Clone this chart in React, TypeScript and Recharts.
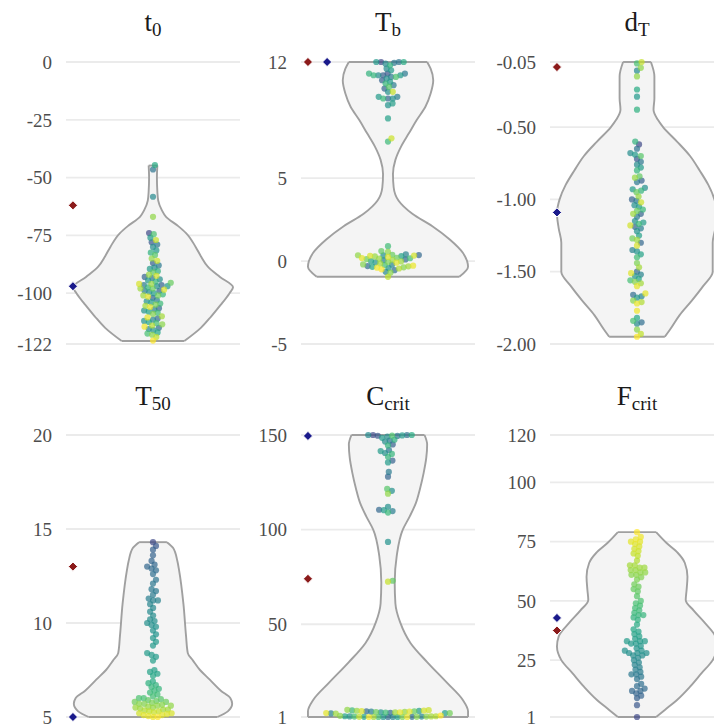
import React from "react";
import {
  ComposedChart,
  Area,
  Scatter,
  XAxis,
  YAxis,
  CartesianGrid,
  ReferenceLine,
} from "recharts";

// F_crit of every run (runs ordered by it); it also sets the point colour in all panels
const fcritValues = [
  1, 6, 9, 10, 11, 12, 12, 13, 14, 15,
  17, 18, 19, 19, 20, 21, 22, 23, 24, 25,
  26, 27, 27, 28, 28, 28, 29, 29, 30, 31,
  32, 32, 33, 33, 33, 34, 35, 36, 37, 38,
  40, 42, 43, 44, 44, 45, 46, 47, 48, 49,
  50, 52, 54, 55, 56, 57, 59, 60, 61, 61,
  62, 62, 63, 63, 64, 64, 65, 65, 67, 69,
  70, 71, 72, 73, 74, 75, 75, 76, 77, 79,
];

// same runs, one row of ten per F_crit band
const t0Values = [
  -74, -78, -87, -93, -96.5, -99, -102, -106.5, -111, -115,
  -46.5, -79, -88, -93.5, -96.5, -99, -103, -107, -111.5, -115.5,
  -58.3, -80, -89, -94, -97, -99.5, -103.5, -107.5, -112, -116,
  -76, -81.5, -89.5, -94.5, -97, -100, -104, -108, -112.5, -117,
  -44.6, -82.5, -90.5, -95, -97.5, -100.5, -104.5, -108.5, -113, -117.5,
  -74.5, -83.5, -91, -95.5, -98, -101, -105, -109, -113.5, -118,
  -67, -85, -92, -96, -98, -101, -105.5, -110, -114, -119,
  -77, -86, -92.5, -96, -98.5, -101.5, -106, -110.5, -114.5, -120.5,
];

const tbValues = [
  12.0, 11.3, 11.2, 10.9, 10.4, 9.8, 0.36, 0.1, -0.3, -0.55,
  12.0, 11.95, 11.3, 11.1, 10.6, 9.9, 0.4, 0.05, -0.22, -0.65,
  11.9, 11.6, 11.2, 11.0, 10.2, 9.8, 9.4, 0.34, -0.08, -0.42,
  12.0, 11.5, 11.2, 10.8, 9.9, 9.5, 8.6, 0.3, 0.0, -0.35,
  12.0, 11.8, 11.3, 11.2, 10.7, 9.8, 7.2, 0.9, 0.17, -0.25,
  11.1, 10.5, 0.6, 0.38, 0.2, 0.12, -0.05, -0.2, -0.38, -0.7,
  0.55, 0.35, 0.28, 0.15, 0.08, -0.02, -0.15, -0.32, -0.45, -0.95,
  10.2, 7.4, 0.33, 0.32, 0.25, 0.18, -0.1, -0.28, -0.4, -0.5,
];

const dtValues = [
  -0.62, -0.72, -0.87, -1.0, -1.1, -1.19, -1.3, -1.5, -1.66, -1.85,
  -0.65, -0.74, -0.88, -1.01, -1.12, -1.2, -1.35, -1.52, -1.67, -1.86,
  -0.11, -0.68, -0.76, -0.92, -1.04, -1.15, -1.22, -1.36, -1.53, -1.68,
  -0.29, -0.69, -0.78, -0.93, -1.05, -1.16, -1.25, -1.38, -1.55, -1.82,
  -0.24, -0.38, -0.6, -0.8, -0.94, -1.07, -1.17, -1.4, -1.56, -1.84,
  -0.06, -0.7, -0.84, -0.95, -1.08, -1.27, -1.44, -1.57, -1.7, -1.9,
  -0.09, -0.15, -0.85, -0.98, -1.1, -1.28, -1.47, -1.58, -1.71, -1.93,
  -0.05, -1.02, -1.18, -1.32, -1.51, -1.6, -1.65, -1.72, -1.77, -1.95,
];

const t50Values = [
  14.3, 14.1, 13.9, 13.6, 13.3, 13.1, 13.0, 12.9, 12.8, 12.6,
  12.3, 12.1, 11.8, 11.7, 11.5, 11.3, 11.2, 11.2, 11.0, 10.8,
  10.6, 10.4, 10.2, 10.1, 10.0, 9.9, 9.8, 9.6, 9.4, 9.2,
  9.0, 8.8, 8.4, 8.3, 8.2, 8.0, 7.5, 7.4, 7.3, 7.2,
  6.9, 6.8, 6.7, 6.6, 6.5, 6.4, 6.3, 6.2, 6.1, 6.0,
  6.0, 5.95, 5.9, 5.85, 5.8, 5.8, 5.75, 5.7, 5.7, 5.65,
  5.6, 5.6, 5.55, 5.5, 5.5, 5.45, 5.4, 5.4, 5.35, 5.3,
  5.3, 5.25, 5.2, 5.2, 5.15, 5.1, 5.1, 5.05, 5.0, 5.0,
];

const ccritValues = [
  150, 149.6, 145, 136.5, 128, 110.5, 3.2, 4.0, 1.0, 1.1,
  150, 149.5, 147, 142, 130.5, 109.8, 3.8, 2.9, 1.0, 1.2,
  150, 149.2, 146.5, 140.5, 120.5, 112, 93.5, 3.5, 1.0, 1.3,
  149.8, 148.5, 141.5, 135.5, 110.3, 4.2, 3.0, 1.0, 1.4, 1.1,
  150, 147.5, 144.5, 140, 138.5, 109, 4.5, 3.3, 1.0, 1.2,
  149.7, 121.5, 73, 4.0, 3.6, 3.0, 1.0, 1.1, 1.6, 1.2,
  119, 4.8, 4.3, 3.7, 3.4, 2.8, 1.0, 1.3, 1.4, 1.1,
  72.5, 4.6, 4.4, 4.1, 3.9, 3.5, 3.1, 1.0, 1.0, 1.8,
];

// axis ticks
const t0Ticks = [0, -25, -50, -75, -100, -122];
const tbTicks = [12, 5, 0, -5];
const dtTicks = [-0.05, -0.5, -1, -1.5, -2];
const t50Ticks = [20, 15, 10, 5];
const ccritTicks = [150, 100, 50, 1];
const fcritTicks = [120, 100, 75, 50, 25, 1];

// violin outlines: levels and half widths (1 = half the panel width)
const t0ViolinAt = [-44.8, -50, -56, -60, -64, -67, -71, -74, -80, -84, -88.5, -93, -97.5, -100, -105, -110, -115, -120.7];
const t0ViolinHalf = [0.05, 0.045, 0.05, 0.06, 0.1, 0.15, 0.29, 0.38, 0.49, 0.55, 0.63, 0.77, 0.92, 0.88, 0.78, 0.67, 0.55, 0.36];
const tbViolinAt = [12, 11.6, 10.9, 10.1, 9.3, 8.5, 7.7, 6.9, 6.1, 5.25, 4.45, 3.65, 2.85, 2.1, 1.3, 0.5, -0.35, -0.95];
const tbViolinHalf = [0.45, 0.49, 0.52, 0.49, 0.43, 0.33, 0.24, 0.15, 0.085, 0.057, 0.065, 0.12, 0.28, 0.51, 0.71, 0.86, 0.92, 0.82];
const dtViolinAt = [-0.05, -0.15, -0.3, -0.38, -0.45, -0.5, -0.6, -0.7, -0.8, -0.9, -1.0, -1.1, -1.2, -1.3, -1.4, -1.5, -1.6, -1.7, -1.8, -1.9, -1.95];
const dtViolinHalf = [0.16, 0.2, 0.2, 0.19, 0.24, 0.3, 0.46, 0.61, 0.72, 0.82, 0.89, 0.92, 0.9, 0.87, 0.87, 0.87, 0.76, 0.63, 0.49, 0.38, 0.32];
const t50ViolinAt = [14.3, 14, 13.3, 12.8, 11, 9.3, 8.4, 8.0, 7.5, 7.0, 6.4, 6.0, 5.7, 5.3, 5.0];
const t50ViolinHalf = [0.16, 0.23, 0.28, 0.3, 0.35, 0.38, 0.4, 0.46, 0.54, 0.65, 0.78, 0.89, 0.91, 0.86, 0.74];
const ccritViolinAt = [150, 145, 138, 130, 122, 114, 107, 100, 86, 72, 61, 51, 40, 30, 19, 10, 4, 1];
const ccritViolinHalf = [0.42, 0.45, 0.44, 0.41, 0.37, 0.32, 0.25, 0.17, 0.1, 0.077, 0.085, 0.14, 0.26, 0.45, 0.68, 0.86, 0.92, 0.92];
const fcritViolinAt = [79, 74.4, 70.2, 66, 60.2, 54.6, 50.4, 46, 40.7, 35, 30.7, 25, 19.4, 13.8, 8.2, 4, 1];
const fcritViolinHalf = [0.22, 0.34, 0.47, 0.55, 0.58, 0.57, 0.56, 0.65, 0.78, 0.9, 0.92, 0.87, 0.74, 0.61, 0.46, 0.32, 0.22];

// the two reference diamonds, panel order t0, Tb, dT, T50, Ccrit, Fcrit
const redMarks = [-62, 12, -0.085, 13, 74, 37.5];
const blueMarks = [-97, 12, -1.09, 5, 149.5, 42.8];

const panels = [
  { main: "t", sub: "0", values: t0Values, ticks: t0Ticks, at: t0ViolinAt, half: t0ViolinHalf, digits: 0 },
  { main: "T", sub: "b", values: tbValues, ticks: tbTicks, at: tbViolinAt, half: tbViolinHalf, digits: 0 },
  { main: "d", sub: "T", values: dtValues, ticks: dtTicks, at: dtViolinAt, half: dtViolinHalf, digits: 2 },
  { main: "T", sub: "50", values: t50Values, ticks: t50Ticks, at: t50ViolinAt, half: t50ViolinHalf, digits: 0 },
  { main: "C", sub: "crit", values: ccritValues, ticks: ccritTicks, at: ccritViolinAt, half: ccritViolinHalf, digits: 0 },
  { main: "F", sub: "crit", values: fcritValues, ticks: fcritTicks, at: fcritViolinAt, half: fcritViolinHalf, digits: 0 },
];

const PLOT_W = 174;
const PLOT_H = 282;
const PAD = 10;
const GAP = 4.8; // swarm spacing in px
const colLeft = [66, 301, 550];
const colAxis = [66, 61, 74];
const rowTop = [62, 435];
const rowTitle = [31, 405];
const MARK_X = -0.92;
const MARK_X_DODGE = -0.7;
const FONT = "'Liberation Serif', 'Times New Roman', serif";
const OUTLINE = "#a0a0a0";

const viridis = [
  "#440154", "#482475", "#414487", "#355f8d", "#2a788e", "#21918c",
  "#22a884", "#44bf70", "#7ad151", "#bddf26", "#fde725",
];

function hexToRgb(h: string) {
  return [1, 3, 5].map((i) => parseInt(h.slice(i, i + 2), 16));
}

function viridisAt(t: number) {
  const s = Math.max(0, Math.min(1, t)) * (viridis.length - 1);
  const i = Math.min(Math.floor(s), viridis.length - 2);
  const f = s - i;
  const a = hexToRgb(viridis[i]);
  const b = hexToRgb(viridis[i + 1]);
  const c = a.map((v, k) => Math.round(v + (b[k] - v) * f));
  return `rgb(${c[0]},${c[1]},${c[2]})`;
}

const fLo = Math.min(...fcritValues);
const fHi = Math.max(...fcritValues);
const pointColour = (f: number) => viridisAt(0.22 + (0.78 * (f - fLo)) / (fHi - fLo));

// beeswarm: lowest first, each point goes to the free spot nearest the centre
function swarmOffsets(values: number[], lo: number, hi: number) {
  const k = PLOT_H / (hi - lo);
  const order = values.map((_, i) => i).sort((a, b) => values[a] - values[b]);
  const placed: { x: number; y: number }[] = [];
  const out: number[] = new Array(values.length).fill(0);
  for (const i of order) {
    const y = values[i] * k;
    const near = placed.filter((p) => Math.abs(p.y - y) < GAP);
    const cands = [0];
    near.forEach((p) => {
      const dx = Math.sqrt(GAP * GAP - (p.y - y) ** 2);
      cands.push(p.x + dx, p.x - dx);
    });
    cands.sort((a, b) => Math.abs(a) - Math.abs(b));
    const x =
      cands.find((c) => near.every((p) => (p.x - c) ** 2 + (p.y - y) ** 2 >= GAP * GAP - 1e-6)) ?? 0;
    placed.push({ x, y });
    out[i] = x / (PLOT_W / 2);
  }
  return out;
}

const SwarmDot = (props: any) => {
  const { cx, cy, payload } = props;
  if (cx == null || cy == null) return null;
  return <circle cx={cx} cy={cy} r={3.1} fill={payload.c} fillOpacity={0.7} />;
};

const Diamond = (props: any) => {
  const { cx, cy, payload } = props;
  if (cx == null || cy == null) return null;
  const r = 4.6;
  return (
    <path
      d={`M${cx},${cy - r}L${cx + r},${cy}L${cx},${cy + r}L${cx - r},${cy}Z`}
      fill={payload.c}
      stroke="#ffffff"
      strokeWidth={1}
    />
  );
};

function Panel({ index }: { index: number }) {
  const p = panels[index];
  const col = index % 3;
  const row = Math.floor(index / 3);
  const lo = Math.min(...p.ticks);
  const hi = Math.max(...p.ticks);
  const violin = p.at.map((y, i) => ({ y, w: [-p.half[i], p.half[i]] }));
  const offs = swarmOffsets(p.values, lo, hi);
  const dots = p.values.map((y, i) => ({ x: offs[i], y, c: pointColour(fcritValues[i]) }));
  const red = redMarks[index];
  const blue = blueMarks[index];
  const marks = [
    { x: MARK_X, y: red, c: "#8b1a1a" },
    { x: red === blue ? MARK_X_DODGE : MARK_X, y: blue, c: "#1a1a8b" },
  ];
  const last = p.at.length - 1;
  const axisW = colAxis[col];

  return (
    <>
      <svg
        style={{ position: "absolute", left: colLeft[col], top: rowTitle[row] - 35 }}
        width={PLOT_W}
        height={48}
      >
        <text x={PLOT_W / 2} y={35} textAnchor="middle" fontFamily={FONT} fontSize={27} fill="#1a1a1a">
          {p.main}
          <tspan fontSize={19} dy={5}>
            {p.sub}
          </tspan>
        </text>
      </svg>
      <div style={{ position: "absolute", left: colLeft[col] - axisW, top: rowTop[row] - PAD }}>
        <ComposedChart
          width={axisW + PLOT_W}
          height={PLOT_H + 2 * PAD}
          data={violin}
          layout="vertical"
          margin={{ top: PAD, right: 0, bottom: PAD, left: 0 }}
        >
          <CartesianGrid vertical={false} stroke="#ebebeb" strokeWidth={1.8} />
          <XAxis type="number" domain={[-1, 1]} hide />
          <YAxis
            type="number"
            dataKey="y"
            domain={[lo, hi]}
            ticks={p.ticks}
            interval={0}
            reversed
            width={axisW}
            axisLine={false}
            tickLine={false}
            tickSize={0}
            tickMargin={14}
            tick={{ fill: "#4d4d4d", fontSize: 19, fontFamily: FONT }}
            tickFormatter={(v: number) => v.toFixed(p.digits)}
          />
          <Area
            dataKey="w"
            type="monotone"
            fill="#f4f4f4"
            fillOpacity={1}
            stroke={OUTLINE}
            strokeWidth={1.9}
            isAnimationActive={false}
          />
          <ReferenceLine
            segment={[{ x: -p.half[0], y: p.at[0] }, { x: p.half[0], y: p.at[0] }]}
            stroke={OUTLINE}
            strokeWidth={1.9}
          />
          <ReferenceLine
            segment={[{ x: -p.half[last], y: p.at[last] }, { x: p.half[last], y: p.at[last] }]}
            stroke={OUTLINE}
            strokeWidth={1.9}
          />
          <Scatter data={dots} dataKey="x" shape={SwarmDot} isAnimationActive={false} />
          <Scatter data={marks} dataKey="x" shape={Diamond} isAnimationActive={false} />
        </ComposedChart>
      </div>
    </>
  );
}

export default function App() {
  return (
    <div
      style={{
        position: "absolute",
        left: 0,
        top: 0,
        width: 714,
        height: 727,
        overflow: "hidden",
        background: "#ffffff",
      }}
    >
      {panels.map((_, i) => (
        <Panel key={i} index={i} />
      ))}
    </div>
  );
}
